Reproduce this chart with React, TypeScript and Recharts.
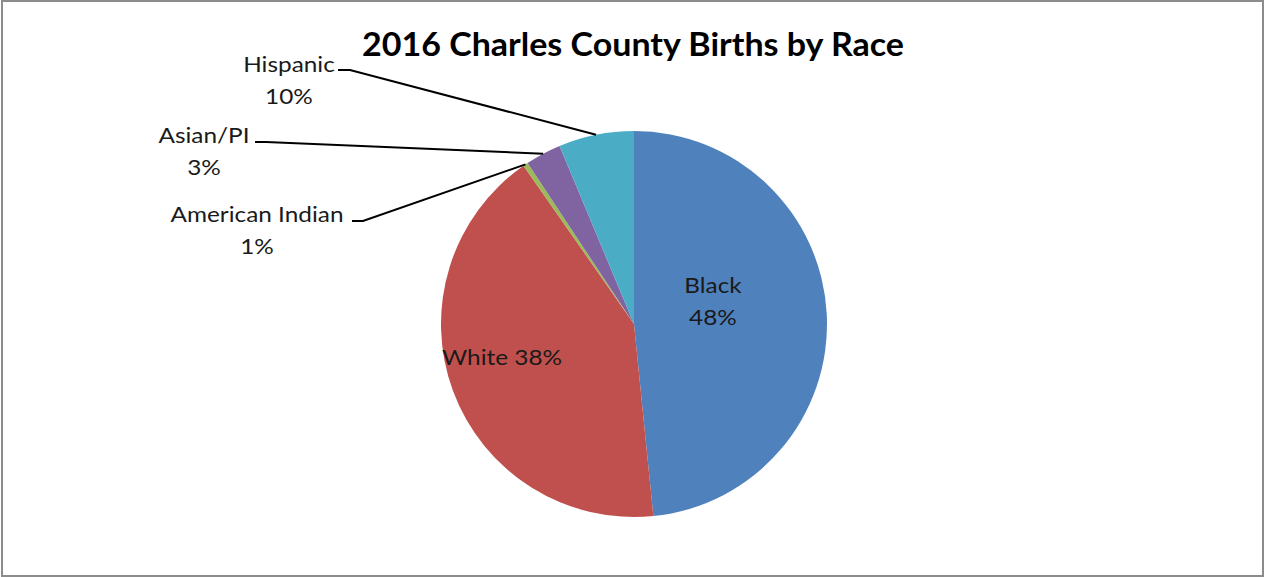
import { PieChart, Pie, Cell } from "recharts"

// slice shares as drawn (the printed labels are kept as shown in the source)
const races = ["Black", "White", "American Indian", "Asian/PI", "Hispanic"]
const shares = [48.4, 41.9, 0.4, 3.0, 6.3]
const labelText = [["Black", "48%"], ["White 38%"], ["American Indian", "1%"], ["Asian/PI", "3%"], ["Hispanic", "10%"]]
const colors = ["#4F81BD", "#C0504D", "#9BBB59", "#8064A2", "#4BACC6"]

const data = races.map((name, i) => ({ name, value: shares[i] }))

// label placement relative to the pie centre; leader = [lineStartX, elbowX, lineY]
const spots: { dx: number; dy: number; leader?: number[] }[] = [
  { dx: 79, dy: -31 },
  { dx: -132, dy: 41 },
  { dx: -377, dy: -102, leader: [-282, -271, -103] },
  { dx: -430, dy: -181, leader: [-379, -368, -182] },
  { dx: -345, dy: -252, leader: [-296, -284, -254] },
]

const FONT = "Lato, 'Open Sans', sans-serif"
const STRETCH = 1.16

function renderLabel(props: any) {
  const { cx, cy, midAngle, outerRadius, index } = props
  const spot = spots[index]
  const lines = labelText[index]
  const rad = Math.PI / 180
  const rx = cx + outerRadius * Math.cos(-midAngle * rad)
  const ry = cy + outerRadius * Math.sin(-midAngle * rad)
  const tx = cx + spot.dx
  const ty = cy + spot.dy
  return (
    <g key={`lbl-${index}`}>
      {spot.leader && (
        <polyline
          points={`${cx + spot.leader[0]},${cy + spot.leader[2]} ${cx + spot.leader[1]},${cy + spot.leader[2]} ${rx},${ry}`}
          fill="none"
          stroke="#000"
          strokeWidth={2}
        />
      )}
      <g transform={`translate(${tx},${ty}) scale(${STRETCH},1)`}>
        <text x={0} y={0} textAnchor="middle" fontFamily={FONT} fontSize={21} fill="#1a1a1a">
          {lines.map((l, i) => (
            <tspan key={i} x={0} dy={i === 0 ? 0 : 32}>
              {l}
            </tspan>
          ))}
        </text>
      </g>
    </g>
  )
}

export default function App() {
  return (
    <div style={{ position: "absolute", left: 0, top: 0, width: 1265, height: 577, background: "#fff" }}>
      <div
        style={{
          position: "absolute",
          left: 1,
          top: 0,
          width: 1263,
          height: 577,
          border: "2px solid #8c8c8c",
          boxSizing: "border-box",
        }}
      />
      <svg width={1265} height={80} style={{ position: "absolute", left: 0, top: 0 }}>
        <text
          x={633}
          y={56}
          textAnchor="middle"
          fontFamily={FONT}
          fontWeight="bold"
          fontSize={32}
          textLength={542}
          lengthAdjust="spacingAndGlyphs"
          fill="#000"
        >
          2016 Charles County Births by Race
        </text>
      </svg>
      <div style={{ position: "absolute", left: 0, top: 0 }}>
        <PieChart width={1265} height={577} margin={{ top: 0, right: 0, bottom: 0, left: 0 }}>
          <Pie
            data={data}
            dataKey="value"
            nameKey="name"
            cx={634}
            cy={324}
            outerRadius={193}
            startAngle={90}
            endAngle={-270}
            stroke="none"
            label={renderLabel}
            labelLine={false}
            isAnimationActive={false}
          >
            {data.map((d, i) => (
              <Cell key={d.name} fill={colors[i]} />
            ))}
          </Pie>
        </PieChart>
      </div>
    </div>
  )
}
